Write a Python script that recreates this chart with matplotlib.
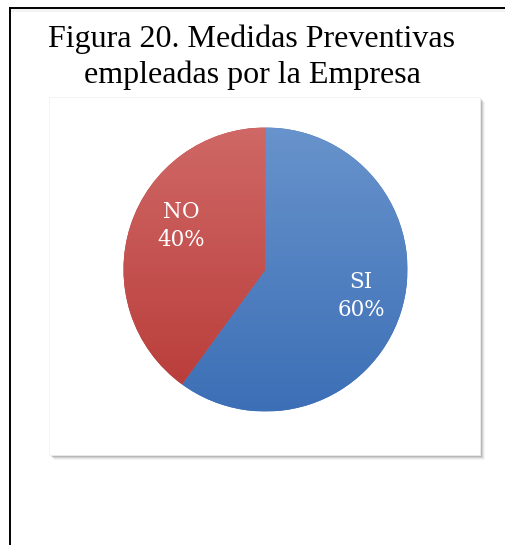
"""Pie chart: Figura 20. Medidas Preventivas empleadas por la Empresa."""

import matplotlib

matplotlib.use("Agg")
import matplotlib.pyplot as plt
import numpy as np
from matplotlib.colors import LinearSegmentedColormap
from matplotlib.lines import Line2D
from matplotlib.patches import Rectangle

TITLE = "Figura 20. Medidas Preventivas\nempleadas por la Empresa"
categories = ["SI", "NO"]
values = [60, 40]
# (top colour, bottom colour) of each slice gradient
gradients = [("#6893cc", "#3c6fb6"), ("#cf6866", "#b83a37")]

W, H = 506, 545
fig = plt.figure(figsize=(W / 100, H / 100), dpi=100)
fig.patch.set_facecolor("white")


def fx(px):
    return px / W


def fy(py):
    return 1 - py / H


# outer frame (left and top edges only visible)
fig.add_artist(Line2D([fx(10), fx(10)], [fy(8), fy(H + 5)], transform=fig.transFigure,
                      color="black", lw=1.4, zorder=-1))
fig.add_artist(Line2D([fx(10), fx(W + 5)], [fy(8), fy(8)], transform=fig.transFigure,
                      color="black", lw=1.4, zorder=-1))
fig.add_artist(Rectangle((fx(11), fy(12)), fx(W), fy(9) - fy(12), transform=fig.transFigure,
                         facecolor="#ececec", edgecolor="none", alpha=0.6, zorder=-2))

# chart area box with soft shadow
bx0, by0, bx1, by1 = 49, 97, 480, 455
for off, alpha in [(5, 0.04), (4, 0.06), (3, 0.09), (2, 0.12)]:
    fig.add_artist(Rectangle((fx(bx0 + off), fy(by1 + off)), fx(bx1 - bx0), fy(by0) - fy(by1),
                             transform=fig.transFigure, facecolor="black",
                             edgecolor="none", alpha=alpha, zorder=-2))
fig.add_artist(Rectangle((fx(bx0), fy(by1)), fx(bx1 - bx0), fy(by0) - fy(by1),
                         transform=fig.transFigure, facecolor="white", edgecolor="#f0f0f0",
                         lw=0.5, zorder=-1))

fig.text(fx(252), fy(57), TITLE, ha="center", va="center", family="Liberation Serif",
         fontsize=23, linespacing=1.28, color="black")

# pie
cx, cy, r = 265.5, 269.5, 142
ax = fig.add_axes([fx(cx - r), fy(cy + r), fx(2 * r), fy(cy - r) - fy(cy + r)])
ax.set_zorder(2)
wedges, texts = ax.pie(
    values,
    labels=[f"{c}\n{v}%" for c, v in zip(categories, values)],
    startangle=90,
    counterclock=False,
    labeldistance=0.7,
    wedgeprops=dict(linewidth=0),
    textprops=dict(color="white", family="DejaVu Serif", fontsize=15.5, ha="center",
                   va="center", linespacing=1.3),
)
ax.set_xlim(-1, 1)
ax.set_ylim(-1, 1)
ax.set_aspect("equal")
ax.axis("off")

grad = np.linspace(0, 1, 256).reshape(-1, 1)
for w, (top, bottom) in zip(wedges, gradients):
    w.set_facecolor(bottom)
    cmap = LinearSegmentedColormap.from_list("g", [top, bottom])
    im = ax.imshow(grad, cmap=cmap, extent=(-1, 1, -1, 1), origin="upper",
                   aspect="auto", zorder=2)
    im.set_clip_path(w)

# label placement as in the original (Excel best fit)
texts[0].set_position(((361 - cx) / r, (cy - 296) / r))
texts[1].set_position(((181 - cx) / r, (cy - 226) / r))
for t in texts:
    t.set_zorder(3)

fig.savefig("out.png", dpi=100)
